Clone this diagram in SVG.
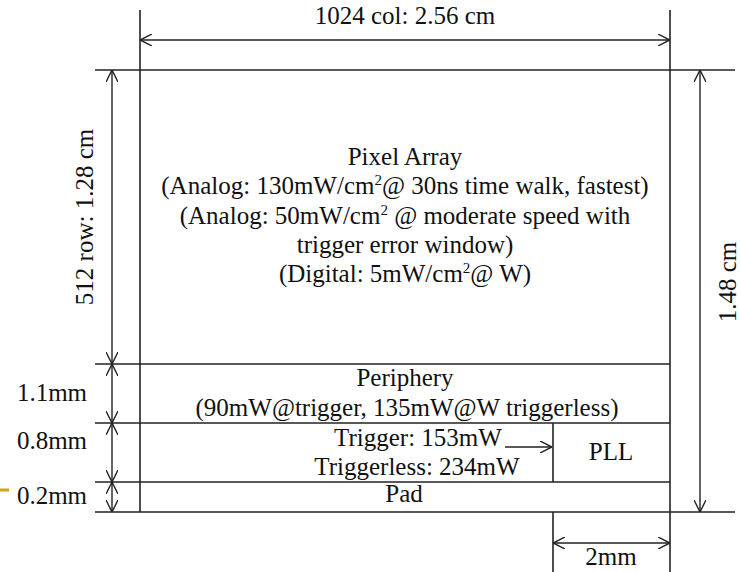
<svg xmlns="http://www.w3.org/2000/svg" width="740" height="572" viewBox="0 0 740 572">
<style>
.ln{stroke:#222;stroke-width:1.6;fill:none}
.dim{stroke:#222;stroke-width:1.4;fill:none;marker-start:url(#ah);marker-end:url(#ah)}
.t{font-family:"Liberation Serif","Times New Roman",serif;font-size:25px;fill:#111;text-anchor:middle}
.sup{font-size:15px}
</style>
<defs>
<marker id="ah" viewBox="0 0 12 12" refX="12" refY="6" markerWidth="12" markerHeight="12" markerUnits="userSpaceOnUse" orient="auto-start-reverse">
<path d="M0,0 L12,6 L0,12" fill="none" stroke="#222" stroke-width="1.4"/>
</marker>
</defs>
<rect width="740" height="572" fill="#fff"/>
<g id="outline">
<line class="ln" x1="140" y1="10" x2="140" y2="512"/>
<line class="ln" x1="670" y1="10" x2="670" y2="572"/>
<line class="ln" x1="95" y1="70" x2="735" y2="70"/>
<line class="ln" x1="95" y1="364" x2="670" y2="364"/>
<line class="ln" x1="95" y1="423" x2="670" y2="423"/>
<line class="ln" x1="95" y1="482" x2="670" y2="482"/>
<line class="ln" x1="95" y1="512" x2="735" y2="512"/>
<line class="ln" x1="553" y1="423" x2="553" y2="482"/>
<line class="ln" x1="553" y1="512" x2="553" y2="572"/>
<line x1="0" y1="490" x2="9" y2="490" stroke="#D4A017" stroke-width="3"/>
</g>
<g id="pixel-array">
<text class="t" x="405" y="165">Pixel Array</text>
<text class="t" x="405" y="194">(Analog: 130mW/cm<tspan class="sup" dy="-9">2</tspan><tspan dy="9">@ 30ns time walk, fastest)</tspan></text>
<text class="t" x="405" y="224">(Analog: 50mW/cm<tspan class="sup" dy="-9">2</tspan><tspan dy="9"> @ moderate speed with</tspan></text>
<text class="t" x="405" y="253">trigger error window)</text>
<text class="t" x="405" y="282">(Digital: 5mW/cm<tspan class="sup" dy="-9">2</tspan><tspan dy="9">@ W)</tspan></text>
</g>
<g id="periphery">
<text class="t" x="405" y="386">Periphery</text>
<text class="t" x="407" y="416">(90mW@trigger, 135mW@W triggerless)</text>
</g>
<g id="trigger">
<text class="t" x="418" y="446">Trigger: 153mW</text>
<text class="t" x="417" y="475">Triggerless: 234mW</text>
</g>
<g id="pll">
<text class="t" x="611" y="460">PLL</text>
</g>
<g id="pad">
<text class="t" x="404" y="502">Pad</text>
</g>
<g id="connectors">
<line class="ln" x1="505" y1="447" x2="552" y2="447" style="marker-end:url(#ah)"/>
<line class="dim" x1="140" y1="40" x2="670" y2="40"/>
<line class="dim" x1="112" y1="70" x2="112" y2="364"/>
<line class="dim" x1="112" y1="364" x2="112" y2="423"/>
<line class="dim" x1="112" y1="423" x2="112" y2="482"/>
<line class="dim" x1="112" y1="482" x2="112" y2="512"/>
<line class="dim" x1="700" y1="70" x2="700" y2="512"/>
<line class="dim" x1="553" y1="543" x2="670" y2="543"/>
</g>
<g id="dimension-labels">
<text class="t" x="405" y="24">1024 col: 2.56 cm</text>
<text class="t" transform="translate(93,217) rotate(-90)" x="0" y="0">512 row: 1.28 cm</text>
<text class="t" transform="translate(736,282) rotate(-90)" x="0" y="0">1.48 cm</text>
<text class="t" x="52" y="401">1.1mm</text>
<text class="t" x="52" y="449">0.8mm</text>
<text class="t" x="52" y="504">0.2mm</text>
<text class="t" x="611" y="565">2mm</text>
</g>
</svg>
